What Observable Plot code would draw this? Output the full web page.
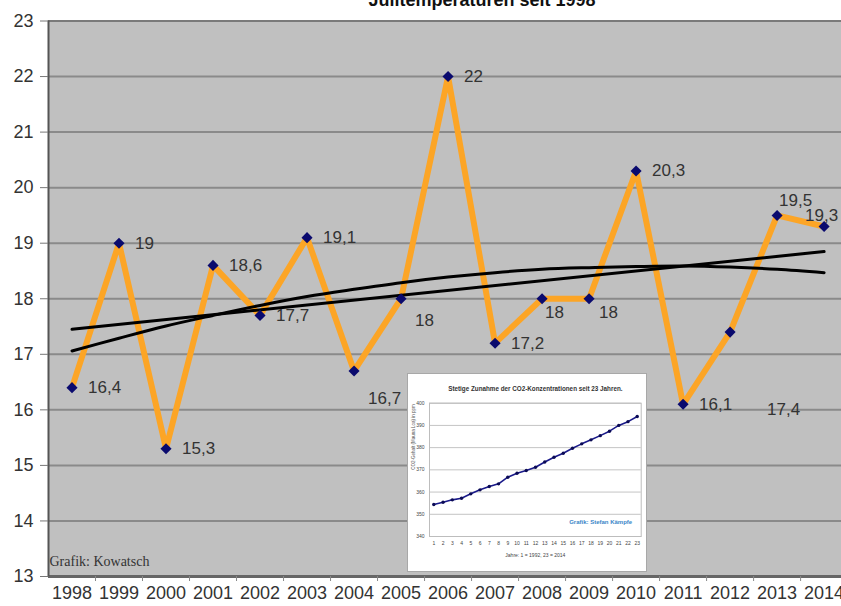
<!DOCTYPE html>
<html><head><meta charset="utf-8">
<script src="https://cdn.jsdelivr.net/npm/d3@7"></script>
<script src="https://cdn.jsdelivr.net/npm/@observablehq/plot@0.6"></script>
<style>
html,body{margin:0;padding:0;background:#fff;}
#wrap{position:relative;width:841px;height:606px;overflow:hidden;}
#main svg{display:block;}
#inset{position:absolute;left:407px;top:373px;width:240px;height:199px;box-sizing:border-box;border:1px solid #a8a8a8;background:#fff;}
#inset svg{display:block;}
</style></head><body>
<div id="wrap"><div id="main"></div><div id="inset"></div></div>
<script>
// ---- main chart data ----
const years = [1998,1999,2000,2001,2002,2003,2004,2005,2006,2007,2008,2009,2010,2011,2012,2013,2014];
const temps = [16.4,19,15.3,18.6,17.7,19.1,16.7,18,22,17.2,18,18,20.3,16.1,17.4,19.5,19.3];
const yTicks = [13,14,15,16,17,18,19,20,21,22,23];
const trendYears = [1998,2014];
const linearTrend = [17.45,18.85];
const polyTrend = [17.06,17.29,17.51,17.70,17.88,18.04,18.17,18.29,18.39,18.47,18.53,18.56,18.58,18.59,18.57,18.53,18.47];
const titleText = "Julitemperaturen seit 1998";
const creditText = "Grafik: Kowatsch";

// ---- inset chart data ----
const insetIndex = [1,2,3,4,5,6,7,8,9,10,11,12,13,14,15,16,17,18,19,20,21,22,23];
const co2 = [354.4,355.4,356.5,357.2,359.2,361.0,362.5,363.7,366.7,368.5,369.7,371.2,373.5,375.7,377.5,379.7,381.7,383.5,385.4,387.4,390.0,391.7,394.0];
const co2Ticks = [340,350,360,370,380,390,400];
const insetTitle = "Stetige Zunahme der CO2-Konzentrationen seit 23 Jahren.";
const insetXLabel = "Jahre: 1 = 1992, 23 = 2014";
const insetYLabel = "CO2-Gehalt (Mauna Loa) in ppm";
const insetCredit = "Grafik: Stefan Kämpfe";

// ---- label placement (layout only) ----
const labelOffsets = {2004:[14,28],2005:[14,22],2008:[3,14],2009:[10,14],2012:[37,77],2013:[2,-15],2014:[-19,-11]};
const defaultOffset = [16,0];

const rows = years.map((year,i)=>({year, temp:temps[i], label:String(temps[i]).replace(".",",")}));
const linRows = trendYears.map((year,i)=>({year, v:linearTrend[i]}));
const polyRows = years.map((year,i)=>({year, v:polyTrend[i]}));

// group labels by offset
const groups = new Map();
for (const r of rows) {
  const off = labelOffsets[r.year] || defaultOffset;
  const key = off.join(",");
  if (!groups.has(key)) groups.set(key, {off, items:[]});
  groups.get(key).items.push(r);
}
const labelMarks = [...groups.values()].map(g => Plot.text(g.items, {
  x:"year", y:"temp", text:"label", dx:g.off[0], dy:g.off[1],
  textAnchor:"start", fontSize:17, fill:"#333"
}));

const boundaries = years.map(y=>y+0.5);
const font = "'Liberation Sans', Arial, Helvetica, sans-serif";

const main = Plot.plot({
  width:841, height:606,
  marginLeft:48, marginRight:0, marginTop:20.5, marginBottom:30,
  x:{type:"linear", domain:[1997.5,2014.37], label:null},
  y:{domain:[13,23], label:null},
  style:{fontFamily:font, fontSize:"18px", color:"#333", background:"transparent"},
  marks:[
    Plot.frame({fill:"#c0c0c0", stroke:null}),
    Plot.ruleY(yTicks.filter(t=>t>13 && t<23), {stroke:"#8a8a8a", strokeWidth:2}),
    Plot.ruleY([23], {stroke:"#7a7a7a", strokeWidth:2}),
    Plot.ruleY([13], {stroke:"#666", strokeWidth:3}),
    Plot.ruleX([1997.5], {stroke:"#555", strokeWidth:2}),
    Plot.axisY({ticks:yTicks, tickSize:8, tickPadding:7, fontSize:18, stroke:"#777", fill:"#333", label:null}),
    Plot.axisX({ticks:boundaries, tickFormat:()=>"", tickSize:5, stroke:"#888", label:null}),
    Plot.axisX({ticks:years, tickFormat:d=>String(d), tickSize:0, tickPadding:10, fontSize:18, fill:"#333", label:null}),
    Plot.line(rows, {x:"year", y:"temp", stroke:"#fca526", strokeWidth:6, strokeLinejoin:"miter"}),
    Plot.line(linRows, {x:"year", y:"v", stroke:"#000", strokeWidth:3}),
    Plot.line(polyRows, {x:"year", y:"v", stroke:"#000", strokeWidth:3, curve:"catmull-rom"}),
    Plot.dot(rows, {x:"year", y:"temp", symbol:"diamond2", r:5, fill:"#0a0a6e", stroke:null}),
    ...labelMarks,
    Plot.text([titleText], {frameAnchor:"top", dx:37, dy:-15, lineAnchor:"bottom", fontWeight:"bold", fontSize:18, fill:"#111"}),
    Plot.text([creditText], {frameAnchor:"bottom-left", textAnchor:"start", lineAnchor:"bottom", dx:1, dy:-11, fontFamily:"'Liberation Serif', 'Times New Roman', serif", fontSize:14, fill:"#333"})
  ]
});
document.getElementById("main").appendChild(main);

const insetRows = insetIndex.map((i,k)=>({i, v:co2[k]}));
const inset = Plot.plot({
  width:238, height:197,
  marginLeft:21, marginRight:5.3, marginTop:28.7, marginBottom:35,
  x:{type:"linear", domain:[0.535,23.43], label:null},
  y:{domain:[340,400], label:null},
  style:{fontFamily:font, fontSize:"5px", color:"#444", background:"#fff"},
  marks:[
    Plot.ruleY(co2Ticks, {stroke:"#c4c4c4", strokeWidth:1}),
    Plot.frame({stroke:"#bdbdbd"}),
    Plot.axisY({ticks:co2Ticks, tickSize:0, tickPadding:5, fontSize:5, label:null}),
    Plot.axisX({ticks:insetIndex, tickFormat:d=>String(d), tickSize:0, tickPadding:5, fontSize:5, label:null}),
    Plot.line(insetRows, {x:"i", y:"v", stroke:"#1a1a8a", strokeWidth:1.6}),
    Plot.dot(insetRows, {x:"i", y:"v", r:1.7, fill:"#0b0b55", stroke:null}),
    Plot.text([insetTitle], {frameAnchor:"top", dy:-17, fontWeight:"bold", fontSize:6.3, fill:"#333"}),
    Plot.text([insetYLabel], {frameAnchor:"left", rotate:-90, dx:-16, fontSize:4.5, fill:"#555"}),
    Plot.text([insetXLabel], {frameAnchor:"bottom", dy:20, fontSize:5, fill:"#444"}),
    Plot.text([insetCredit], {frameAnchor:"bottom-right", textAnchor:"end", dx:-9, dy:-12.5, fontWeight:"bold", fontSize:6, fill:"#3a86c8"})
  ]
});
document.getElementById("inset").appendChild(inset);
</script>
</body></html>
